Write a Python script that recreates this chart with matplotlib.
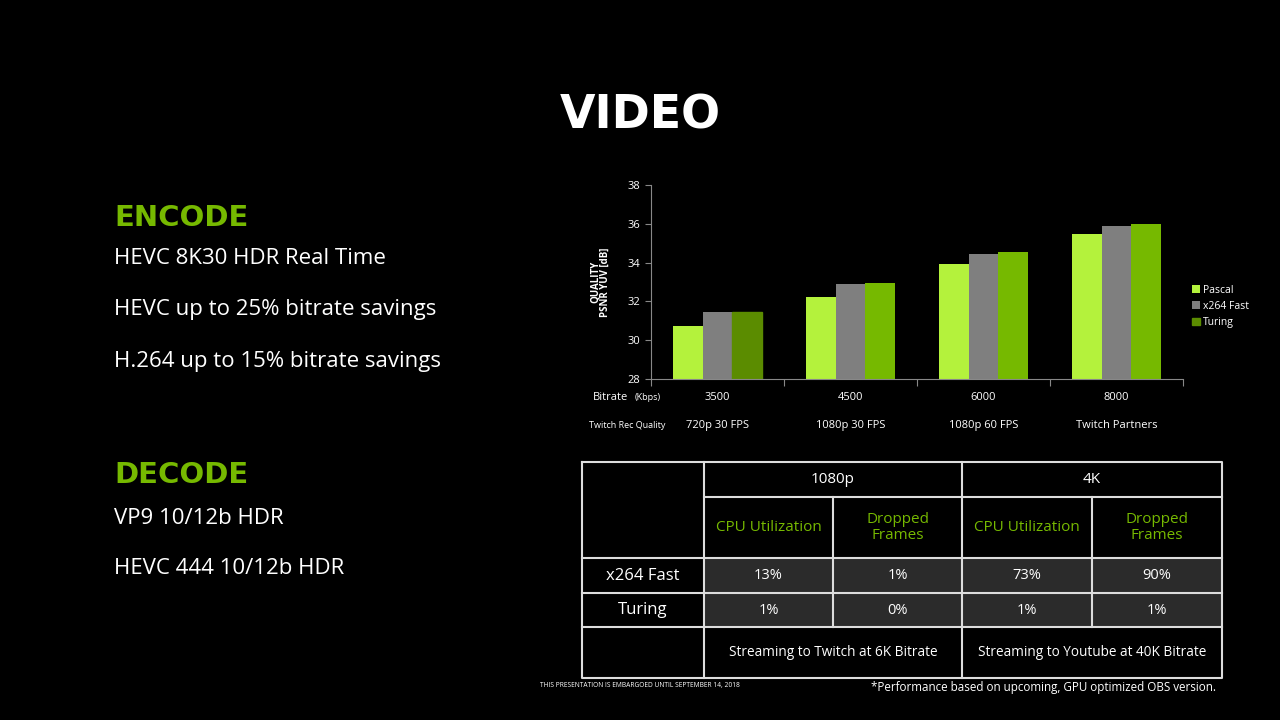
import matplotlib
matplotlib.use('Agg')
import matplotlib.pyplot as plt
import numpy as np

plt.rcParams['font.family'] = ['Open Sans', 'DejaVu Sans']

# chart data
bitrates = ['3500', '4500', '6000', '8000']
rec_quality = ['720p 30 FPS', '1080p 30 FPS', '1080p 60 FPS', 'Twitch Partners']
series = ['Pascal', 'x264 Fast', 'Turing']
pascal = [30.75, 32.25, 33.93, 35.48]
x264_fast = [31.43, 32.88, 34.43, 35.9]
turing = [31.43, 32.93, 34.55, 36.0]

# table data
groups = ['1080p', '4K']
metrics = ['CPU Utilization', 'Dropped\nFrames']
row_labels = ['x264 Fast', 'Turing']
row_values = [['13%', '1%', '73%', '90%'],
              ['1%', '0%', '1%', '1%']]
footers = ['Streaming to Twitch at 6K Bitrate', 'Streaming to Youtube at 40K Bitrate']

GREEN = '#76b900'
LIGHT = '#b4f23c'
GRAY = '#7f7f7f'

fig = plt.figure(figsize=(12.8, 7.2), dpi=100, facecolor='black')

# overlay in pixel coords for slide text and table
bg = fig.add_axes([0, 0, 1, 1])
bg.set_xlim(0, 1280)
bg.set_ylim(720, 0)
bg.axis('off')

bg.text(640, 116, 'VIDEO', color='white', fontsize=33, fontweight='bold',
        ha='center', va='center', family='DejaVu Sans')
bg.text(114, 218, 'ENCODE', color=GREEN, fontsize=21, fontweight='bold',
        ha='left', va='center', family='DejaVu Sans')
bg.text(114, 475, 'DECODE', color=GREEN, fontsize=21, fontweight='bold',
        ha='left', va='center', family='DejaVu Sans')
for y, s in zip([259, 310, 361], ['HEVC 8K30 HDR Real Time', 'HEVC up to 25% bitrate savings',
                                  'H.264 up to 15% bitrate savings']):
    bg.text(114, y, s, color='white', fontsize=16, ha='left', va='center')
for y, s in zip([519, 569], ['VP9 10/12b HDR', 'HEVC 444 10/12b HDR']):
    bg.text(114, y, s, color='white', fontsize=16, ha='left', va='center')

# bar chart
ax = fig.add_axes([651 / 1280, 1 - 379 / 720, 532 / 1280, 194 / 720])
ax.set_facecolor('black')
x = np.arange(len(bitrates))
w = 0.225
ax.bar(x - w, pascal, w, color=LIGHT, label=series[0])
ax.bar(x, x264_fast, w, color=GRAY, label=series[1])
tb = ax.bar(x + w, turing, w, color=GREEN, label=series[2])
tb[0].set_color('#5b8c00')
ax.set_ylim(28, 38)
ax.set_yticks(np.arange(28, 39, 2))
ax.set_xlim(-0.5, 3.5)
ax.set_xticks(np.arange(-0.5, 4, 1))
ax.set_xticklabels([])
ax.tick_params(axis='both', colors='#888888', labelcolor='white', labelsize=8, length=4, width=0.8)
ax.tick_params(axis='x', direction='out', length=5)
for s in ['top', 'right']:
    ax.spines[s].set_visible(False)
for s in ['left', 'bottom']:
    ax.spines[s].set_color('#888888')
ax.set_ylabel('QUALITY\nPSNR YUV [dB]', color='white', fontsize=7, fontweight='bold',
              linespacing=0.9, labelpad=12)
leg = ax.legend(loc='center left', bbox_to_anchor=(1.0, 0.375), frameon=False, fontsize=7.5,
                labelcolor='white', handlelength=0.7, handleheight=0.7, handletextpad=0.3,
                labelspacing=0.5)

for i in range(len(bitrates)):
    ax.text(x[i], -0.095, bitrates[i], transform=ax.get_xaxis_transform(), color='white',
            fontsize=8, ha='center', va='center')
    ax.text(x[i], -0.24, rec_quality[i], transform=ax.get_xaxis_transform(), color='white',
            fontsize=8, ha='center', va='center')
bg.text(593, 397, 'Bitrate', color='white', fontsize=8, ha='left', va='center')
bg.text(635, 398, '(Kbps)', color='white', fontsize=6.5, ha='left', va='center')
bg.text(665, 425, 'Twitch Rec Quality', color='white', fontsize=6.5, ha='right', va='center')

# table
cols = [582, 704, 833, 962, 1092, 1222]
rows = [462, 497, 558, 593, 627, 678]
lw = 1.5
for r in range(2):
    bg.fill_between([cols[1], cols[5]], rows[2 + r], rows[3 + r], color='#2b2b2b', lw=0)
# outer box
bg.plot([cols[0], cols[5], cols[5], cols[0], cols[0]],
        [rows[0], rows[0], rows[5], rows[5], rows[0]], color='#dddddd', lw=lw)
# vertical lines
bg.plot([cols[1], cols[1]], [rows[0], rows[5]], color='#dddddd', lw=lw)
bg.plot([cols[3], cols[3]], [rows[0], rows[5]], color='#dddddd', lw=lw)
for c in [cols[2], cols[4]]:
    bg.plot([c, c], [rows[1], rows[4]], color='#dddddd', lw=lw)
# horizontal lines
bg.plot([cols[1], cols[5]], [rows[1], rows[1]], color='#dddddd', lw=lw)
for r in rows[2:5]:
    bg.plot([cols[0], cols[5]], [r, r], color='#dddddd', lw=lw)

for g in range(2):
    bg.text((cols[1 + 2 * g] + cols[3 + 2 * g]) / 2, (rows[0] + rows[1]) / 2, groups[g],
            color='white', fontsize=11, ha='center', va='center')
    bg.text((cols[1 + 2 * g] + cols[3 + 2 * g]) / 2, (rows[4] + rows[5]) / 2, footers[g],
            color='white', fontsize=9.8, ha='center', va='center')
    for m in range(2):
        c = 1 + 2 * g + m
        bg.text((cols[c] + cols[c + 1]) / 2, (rows[1] + rows[2]) / 2, metrics[m],
                color=GREEN, fontsize=11, ha='center', va='center', linespacing=1.05)
for r in range(2):
    ym = (rows[2 + r] + rows[3 + r]) / 2
    bg.text((cols[0] + cols[1]) / 2, ym, row_labels[r], color='white', fontsize=12,
            ha='center', va='center')
    for c in range(4):
        bg.text((cols[1 + c] + cols[2 + c]) / 2, ym, row_values[r][c], color='white',
                fontsize=10.5, ha='center', va='center')

bg.text(540, 686, 'THIS PRESENTATION IS EMBARGOED UNTIL SEPTEMBER 14, 2018', color='white',
        fontsize=4.8, ha='left', va='center')
bg.text(1216, 687, '*Performance based on upcoming, GPU optimized OBS version.', color='white',
        fontsize=8.4, ha='right', va='center')

fig.savefig('out.png', dpi=100, facecolor='black')
